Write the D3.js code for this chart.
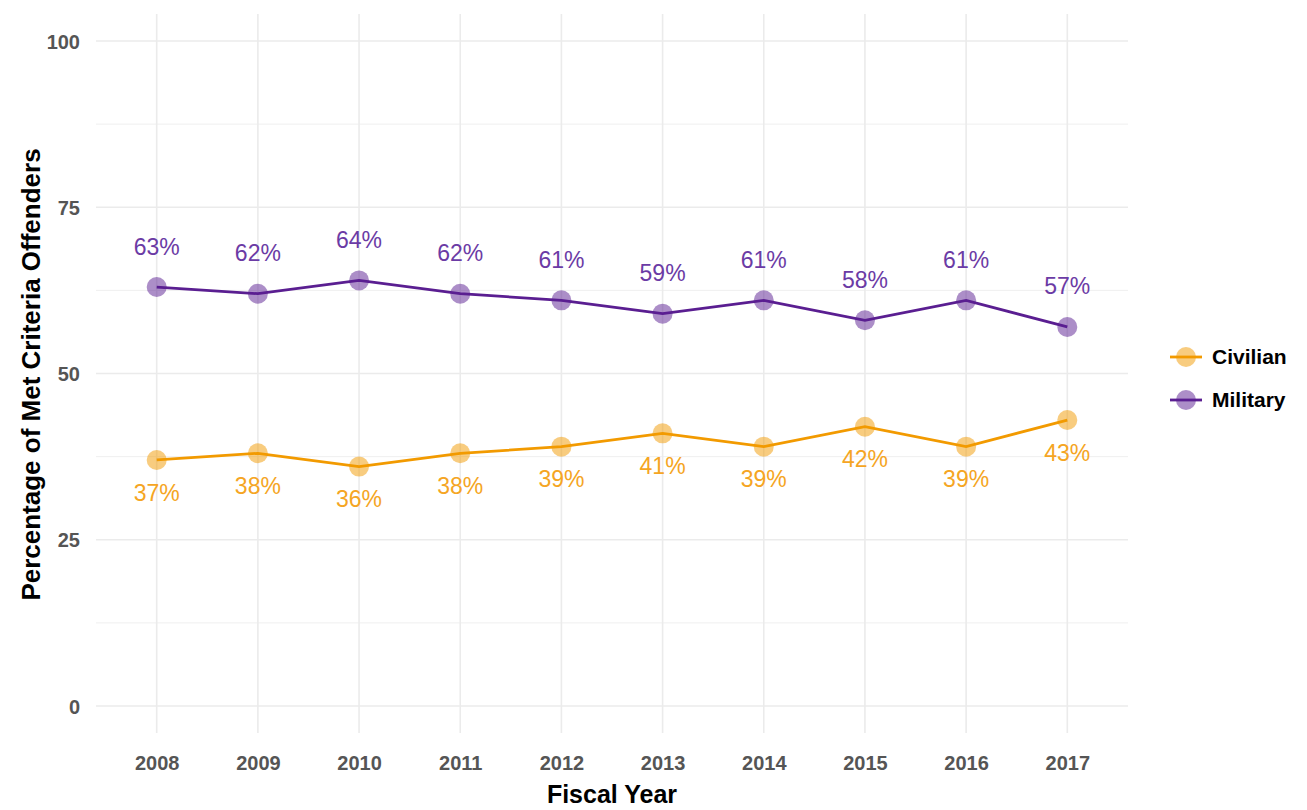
<!DOCTYPE html>
<html>
<head>
<meta charset="utf-8">
<script src="https://cdn.jsdelivr.net/npm/d3@7"></script>
<style>
  body { margin: 0; background: #fff; }
  text { font-family: "Liberation Sans", Arial, sans-serif; }
</style>
</head>
<body>
<div id="chart"></div>
<script>
// data
const years = ["2008", "2009", "2010", "2011", "2012", "2013", "2014", "2015", "2016", "2017"]
const military = [63, 62, 64, 62, 61, 59, 61, 58, 61, 57]
const civilian = [37, 38, 36, 38, 39, 41, 39, 42, 39, 43]
const yTicks = [0, 25, 50, 75, 100]
const seriesNames = ["Civilian", "Military"]

const width = 1307, height = 810
const margin = {top: 41, right: 179, bottom: 104, left: 96}

const svg = d3.select("#chart").append("svg")
  .attr("width", width)
  .attr("height", height)

const x = d3.scalePoint()
  .domain(years)
  .range([margin.left, width - margin.right])
  .padding(0.6)

const y = d3.scaleLinear()
  .domain([0, 100])
  .range([height - margin.bottom, margin.top])

const colors = {Civilian: "#F29A00", Military: "#5A1E91"}
const labelColors = {Civilian: "#F5A523", Military: "#6B3BA5"}

// grid
const grid = svg.append("g")
d3.range(12.5, 100, 25).forEach(v => {
  grid.append("line")
    .attr("x1", margin.left).attr("x2", width - margin.right)
    .attr("y1", y(v)).attr("y2", y(v))
    .attr("stroke", "#EFEFEF").attr("stroke-width", 1)
})
yTicks.forEach(v => {
  grid.append("line")
    .attr("x1", margin.left).attr("x2", width - margin.right)
    .attr("y1", y(v)).attr("y2", y(v))
    .attr("stroke", "#EBEBEB").attr("stroke-width", 1.6)
})
years.forEach(yr => {
  grid.append("line")
    .attr("x1", x(yr)).attr("x2", x(yr))
    .attr("y1", y(0) + 27).attr("y2", margin.top - 27)
    .attr("stroke", "#EBEBEB").attr("stroke-width", 1.6)
})

// axes (text only, like ggplot theme_minimal)
const yAxis = svg.append("g")
  .attr("transform", "translate(" + (margin.left - 13) + ",0)")
  .call(d3.axisLeft(y).tickValues(yTicks).tickSize(0))
yAxis.select(".domain").remove()
yAxis.selectAll("text")
  .attr("fill", "#555")
  .style("font-size", "20px")
  .style("font-weight", "bold")
  .attr("dy", "0.35em")

const xAxis = svg.append("g")
  .attr("transform", "translate(0," + (y(0) + 47) + ")")
  .call(d3.axisBottom(x).tickSize(0))
xAxis.select(".domain").remove()
xAxis.selectAll("text")
  .attr("fill", "#555")
  .style("font-size", "20px")
  .style("font-weight", "bold")

svg.append("text")
  .attr("x", (margin.left + width - margin.right) / 2)
  .attr("y", 803)
  .attr("text-anchor", "middle")
  .style("font-size", "25px")
  .style("font-weight", "bold")
  .text("Fiscal Year")

svg.append("text")
  .attr("transform", "translate(31," + ((margin.top + y(0)) / 2 + 1) + ")rotate(-90)")
  .attr("text-anchor", "middle")
  .attr("dy", "0.35em")
  .style("font-size", "26px")
  .style("font-weight", "bold")
  .text("Percentage of Met Criteria Offenders")

const series = [
  {name: "Military", values: military, offset: 6.1},
  {name: "Civilian", values: civilian, offset: -4.9}
]

const line = d3.line()
  .x(d => x(d.year))
  .y(d => y(d.value))

series.forEach(s => {
  const pts = years.map((yr, i) => ({year: yr, value: s.values[i]}))
  svg.append("path")
    .datum(pts)
    .attr("d", line)
    .attr("fill", "none")
    .attr("stroke", colors[s.name])
    .attr("stroke-width", 2.8)

  svg.selectAll(null)
    .data(pts)
    .enter()
    .append("circle")
    .attr("cx", d => x(d.year))
    .attr("cy", d => y(d.value))
    .attr("r", 10)
    .attr("fill", colors[s.name])
    .attr("fill-opacity", 0.5)

  svg.selectAll(null)
    .data(pts)
    .enter()
    .append("text")
    .attr("x", d => x(d.year))
    .attr("y", d => y(d.value + s.offset))
    .attr("dy", "0.35em")
    .attr("text-anchor", "middle")
    .attr("fill", labelColors[s.name])
    .style("font-size", "23px")
    .text(d => d.value + "%")
})

// legend
const legend = svg.append("g")
seriesNames.forEach((n, i) => {
  const ly = 357 + i * 43
  legend.append("line")
    .attr("x1", 1170).attr("x2", 1202)
    .attr("y1", ly).attr("y2", ly)
    .attr("stroke", colors[n]).attr("stroke-width", 2.8)
  legend.append("circle")
    .attr("cx", 1186).attr("cy", ly).attr("r", 10)
    .attr("fill", colors[n]).attr("fill-opacity", 0.5)
  legend.append("text")
    .attr("x", 1212).attr("y", ly)
    .attr("dy", "0.35em")
    .style("font-size", "21px")
    .style("font-weight", "bold")
    .text(n)
})
</script>
</body>
</html>
